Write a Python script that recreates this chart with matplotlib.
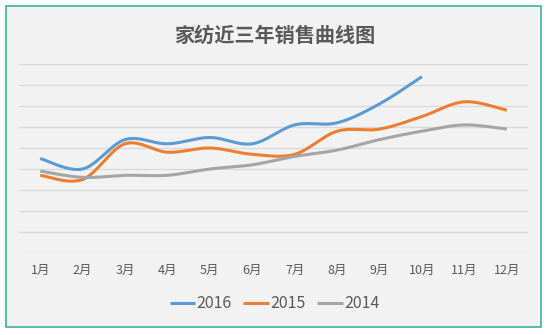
import numpy as np
import matplotlib
matplotlib.use("Agg")
from matplotlib import pyplot as plt
import matplotlib.patches as patches

plt.rcParams['font.family'] = ['Noto Sans CJK SC', 'DejaVu Sans']

months = ['1月', '2月', '3月', '4月', '5月', '6月',
          '7月', '8月', '9月', '10月', '11月', '12月']
sales_2016 = [45, 40, 54, 52, 55, 52, 61, 62, 71, 84]
sales_2015 = [37, 35, 52, 48, 50, 47, 47, 58, 59, 65, 72, 68]
sales_2014 = [39, 36, 37, 37, 40, 42, 46, 49, 54, 58, 61, 59]

series = [('2016', sales_2016, '#5B9BD5'),
          ('2015', sales_2015, '#ED7D31'),
          ('2014', sales_2014, '#A5A5A5')]

text_color = '#595959'


def smooth(xs, ys, steps=30):
    # cubic bezier through the points, control points as in office "smoothed line"
    xs = np.asarray(xs, float)
    ys = np.asarray(ys, float)
    n = len(xs)
    px, py = [], []
    for i in range(n - 1):
        p0 = (xs[max(i - 1, 0)], ys[max(i - 1, 0)])
        p1 = (xs[i], ys[i])
        p2 = (xs[i + 1], ys[i + 1])
        p3 = (xs[min(i + 2, n - 1)], ys[min(i + 2, n - 1)])
        c1 = (p1[0] + (p2[0] - p0[0]) / 6, p1[1] + (p2[1] - p0[1]) / 6)
        c2 = (p2[0] - (p3[0] - p1[0]) / 6, p2[1] - (p3[1] - p1[1]) / 6)
        t = np.linspace(0, 1, steps)
        a = (1 - t) ** 3
        b = 3 * (1 - t) ** 2 * t
        c = 3 * (1 - t) * t ** 2
        d = t ** 3
        px.extend(a * p1[0] + b * c1[0] + c * c2[0] + d * p2[0])
        py.extend(a * p1[1] + b * c1[1] + c * c2[1] + d * p2[1])
    return px, py


fig = plt.figure(figsize=(5.49, 3.35), dpi=100)
fig.patch.set_facecolor('white')

# framed chart area
frame = patches.Rectangle((6 / 549, 1 - 327 / 335), 535 / 549, 321 / 335,
                          transform=fig.transFigure, facecolor='#F2F2F2',
                          edgecolor='#3AB39B', linewidth=1.2, zorder=-5)
fig.patches.append(frame)

ax = fig.add_axes([19 / 549, 82 / 335, 509 / 549, 189 / 335])
ax.set_facecolor('none')
ax.set_zorder(1)

x = np.arange(len(months))
for label, values, color in series:
    sx, sy = smooth(x[:len(values)], values)
    ax.plot(sx, sy, color=color, linewidth=2.2, label=label,
            solid_capstyle='butt', zorder=3)

ax.set_xlim(-0.5, len(months) - 0.5)
ax.set_ylim(0, 90)
ax.set_yticks(np.arange(0, 91, 10))
ax.set_yticklabels([])
ax.yaxis.grid(True, color='#D9D9D9', linewidth=0.9)
ax.tick_params(axis='y', length=0)
ax.set_xticks(x)
ax.set_xticklabels(months, color=text_color, fontsize=9)
ax.tick_params(axis='x', length=0, pad=8)
for s in ax.spines.values():
    s.set_visible(False)
ax.set_axisbelow(True)

fig.text(0.5, 1 - 35 / 335, '家纺近三年销售曲线图', ha='center', va='center',
         fontsize=14.5, fontweight='bold', color=text_color)

fig.legend(loc='center', bbox_to_anchor=(0.5, 1 - 304 / 335), ncol=3,
           frameon=False, fontsize=11.5, labelcolor=text_color,
           handlelength=1.6, handletextpad=0.1, columnspacing=0.7)

plt.savefig('out.png', dpi=100, facecolor=fig.get_facecolor())
